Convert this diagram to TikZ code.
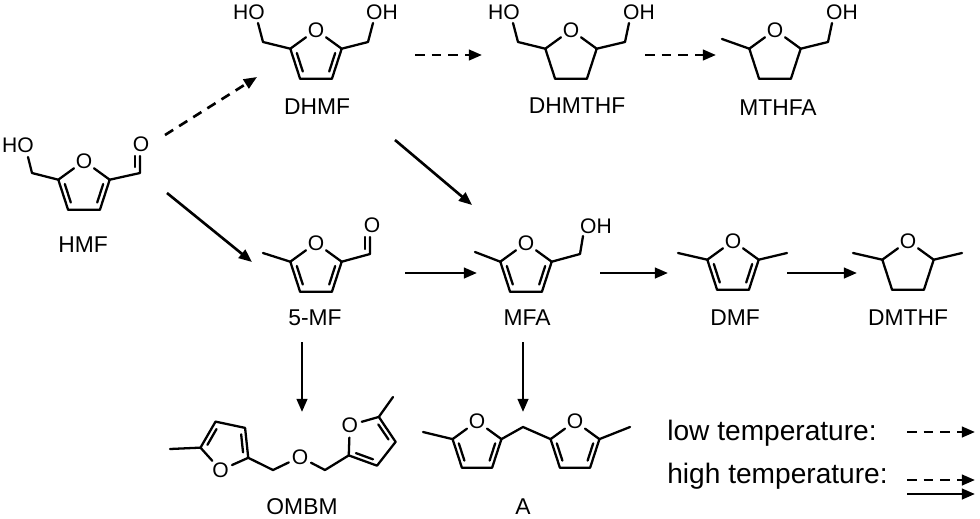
\documentclass[tikz,border=0pt]{standalone}
\usepackage{fontspec}
\setmainfont{Liberation Sans}
\usetikzlibrary{arrows.meta}

\begin{document}
\begin{tikzpicture}[x=0.02cm,y=-0.02cm,
  bond/.style = {line width=1.3pt, line cap=round, line join=round},
  atom/.style = {circle, inner sep=0.4pt, font=\fontsize{12}{14}\selectfont},
  molname/.style = {font=\fontsize{13}{15}\selectfont},
  legtext/.style = {anchor=west, inner sep=0pt, font=\fontsize{16}{18}\selectfont},
  react/.style = {line width=1.5pt, -{Triangle[length=7.5pt,width=6pt]}},
  lowT/.style = {react, dash pattern=on 5.5pt off 4pt},
  thf/.pic = {
    \node[atom] (-o) at (0,-27) {O};
    \coordinate (-c2) at (-25.7,-8.3);
    \coordinate (-c3) at (-15.9,21.8);
    \coordinate (-c4) at (15.9,21.8);
    \coordinate (-c5) at (25.7,-8.3);
    \draw[bond] (-o) -- (-c2) -- (-c3) -- (-c4) -- (-c5) -- (-o);
  },
  furan/.pic = {
    \node[atom] (-o) at (0,-27) {O};
    \coordinate (-c2) at (-25.7,-8.3);
    \coordinate (-c3) at (-15.9,21.8);
    \coordinate (-c4) at (15.9,21.8);
    \coordinate (-c5) at (25.7,-8.3);
    \draw[bond] (-o) -- (-c2) -- (-c3) -- (-c4) -- (-c5) -- (-o);
    \draw[bond, shorten <=1.5pt, shorten >=1.5pt] (-20,-6.5) -- (-12.4,17);
    \draw[bond, shorten <=1.5pt, shorten >=1.5pt] (12.4,17) -- (20,-6.5);
  }]
\useasboundingbox (0,0) rectangle (980,518);

% HMF
\pic (hmf) at (84,188) {furan};
\draw[bond] (hmf-c2) -- (32,173) -- (28,157);
\node[atom] (hmf-ho) at (18,145) {HO};
\draw[bond] (hmf-c5) -- (140,173) -- (140,156);
\draw[bond] (135,167) -- (135,156);
\node[atom] (hmf-ald) at (141,144) {O};
\node[molname] (HMF) at (83,245) {HMF};

% DHMF
\pic (dhmf) at (316,57) {furan};
\draw[bond] (dhmf-c2) -- (263,42) -- (258,23);
\node[atom] (dhmf-ho) at (249,12) {HO};
\draw[bond] (dhmf-c5) -- (368,42) -- (373,23);
\node[atom] (dhmf-oh) at (382,12) {OH};
\node[molname] (DHMF) at (317,107) {DHMF};

% DHMTHF
\pic (dhmthf) at (571,57) {thf};
\draw[bond] (dhmthf-c2) -- (518,42) -- (513,23);
\node[atom] (dhmthf-ho) at (504,12) {HO};
\draw[bond] (dhmthf-c5) -- (625,42) -- (629,23);
\node[atom] (dhmthf-oh) at (639,12) {OH};
\node[molname] (DHMTHF) at (577,106) {DHMTHF};

% MTHFA
\pic (mthfa) at (775,57) {thf};
\draw[bond] (mthfa-c2) -- (722,39);
\draw[bond] (mthfa-c5) -- (828,42) -- (832,23);
\node[atom] (mthfa-oh) at (842,12) {OH};
\node[molname] (MTHFA) at (778,108) {MTHFA};

% 5-MF
\pic (mf5) at (316,270) {furan};
\draw[bond] (mf5-c2) -- (263,253);
\draw[bond] (mf5-c5) -- (370,254) -- (370,237);
\draw[bond] (365,249) -- (365,237);
\node[atom] (mf5-ald) at (372,225) {O};
\node[molname] (MF5) at (315,318) {5-MF};

% MFA
\pic (mfa) at (526,270) {furan};
\draw[bond] (mfa-c2) -- (475,252);
\draw[bond] (mfa-c5) -- (580,254) -- (583,236);
\node[atom] (mfa-oh) at (596,226) {OH};
\node[molname] (MFA) at (527,318) {MFA};

% DMF
\pic (dmf) at (733,268) {furan};
\draw[bond] (dmf-c2) -- (678,253);
\draw[bond] (dmf-c5) -- (787,253);
\node[molname] (DMF) at (735,318) {DMF};

% DMTHF
\pic (dmthf) at (908,268) {thf};
\draw[bond] (dmthf-c2) -- (853,253);
\draw[bond] (dmthf-c5) -- (962,253);
\node[molname] (DMTHF) at (908,318) {DMTHF};

% OMBM
\pic[rotate=168, scale=0.95] (ombm1) at (226,445) {furan};
\pic[rotate=52, scale=0.95] (ombm2) at (370,441) {furan};
\node[atom] (ombm-o) at (300,457) {O};
\draw[bond] (ombm1-c5) -- (170,449);
\draw[bond] (ombm1-c2) -- (273,470) -- (ombm-o) -- (325,470) -- (ombm2-c2);
\draw[bond] (ombm2-c5) -- (393,397);
\node[molname] (OMBM) at (302,507) {OMBM};

% A
\pic[scale=0.95] (a1) at (477,447) {furan};
\pic[scale=0.95] (a2) at (575,447) {furan};
\draw[bond] (a1-c2) -- (423,432);
\draw[bond] (a1-c5) -- (523,427) -- (a2-c2);
\draw[bond] (a2-c5) -- (630,427);
\node[molname] (A) at (523,507) {A};

% arrow ends
\coordinate (hmf-up) at (165,135);  \coordinate (dhmf-in) at (257,77);
\coordinate (hmf-down) at (167,193); \coordinate (mf5-in) at (252,262);
\coordinate (dhmf-out) at (415,55); \coordinate (dhmthf-in) at (482,55);
\coordinate (dhmthf-out) at (645,55); \coordinate (mthfa-in) at (716,55);
\coordinate (dhmf-down) at (395,140); \coordinate (mfa-top) at (472,205);
\coordinate (mf5-out) at (405,273); \coordinate (mfa-in) at (477,273);
\coordinate (mfa-out) at (600,273); \coordinate (dmf-in) at (668,273);
\coordinate (dmf-out) at (787,273); \coordinate (dmthf-in) at (857,273);
\coordinate (mf5-down) at (302,342); \coordinate (ombm-in) at (302,412);
\coordinate (mfa-down) at (523,342); \coordinate (a-in) at (523,412);

\draw[lowT] (hmf-up) -- (dhmf-in);
\draw[react] (hmf-down) -- (mf5-in);
\draw[lowT] (dhmf-out) -- (dhmthf-in);
\draw[lowT] (dhmthf-out) -- (mthfa-in);
\draw[react] (dhmf-down) -- (mfa-top);
\draw[react] (mf5-out) -- (mfa-in);
\draw[react] (mfa-out) -- (dmf-in);
\draw[react] (dmf-out) -- (dmthf-in);
\draw[react] (mf5-down) -- (ombm-in);
\draw[react] (mfa-down) -- (a-in);

% legend
\node[legtext] (low) at (667,433) {low temperature:};
\node[legtext] (high) at (667,476) {high temperature:};
\coordinate (low-a) at (907,432);  \coordinate (low-b) at (975,432);
\coordinate (high-a) at (907,480); \coordinate (high-b) at (975,480);
\coordinate (high-c) at (907,494); \coordinate (high-d) at (975,494);
\draw[lowT] (low-a) -- (low-b);
\draw[lowT] (high-a) -- (high-b);
\draw[react] (high-c) -- (high-d);
\end{tikzpicture}
\end{document}
